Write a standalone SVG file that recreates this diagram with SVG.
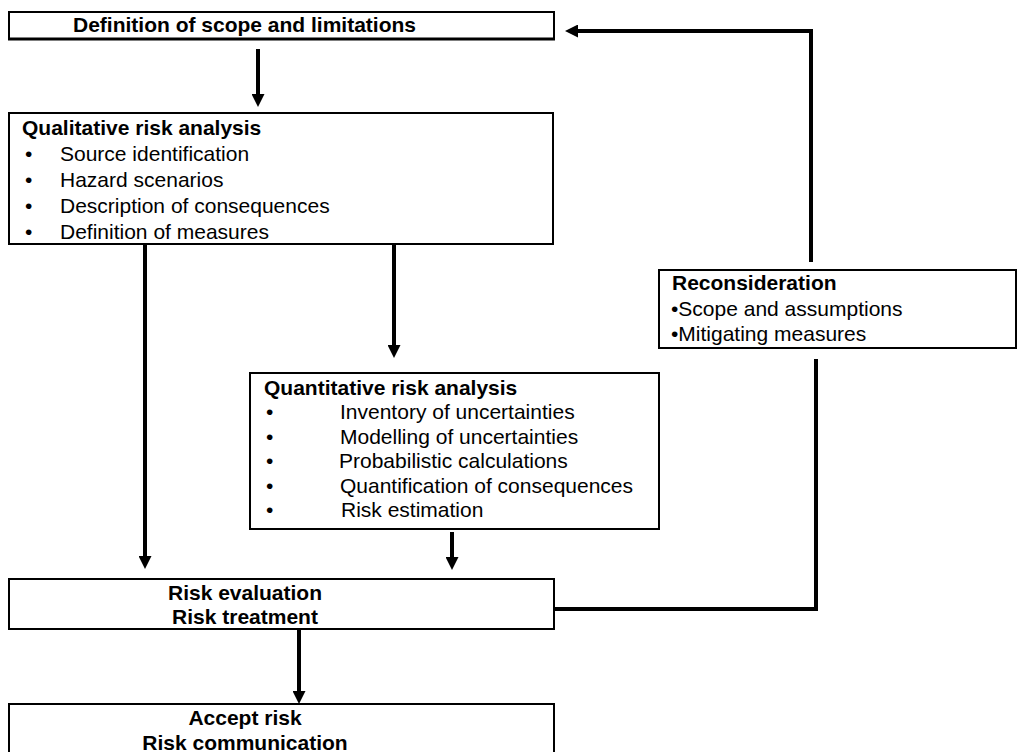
<svg xmlns="http://www.w3.org/2000/svg" width="1017" height="752" viewBox="0 0 1017 752">
<defs>
<style>
.box{fill:#fff;stroke:#000;stroke-width:2}
.t{font-family:"Liberation Sans",Arial,sans-serif;font-size:21px;fill:#000}
.b{font-weight:bold}
.c{text-anchor:middle}
.con{fill:none;stroke:#000;stroke-width:4}
</style>
<marker id="ah" viewBox="0 0 13 13" refX="0" refY="6.5" markerWidth="13" markerHeight="13" markerUnits="userSpaceOnUse" orient="auto"><path d="M0,0 L13,6.5 L0,13 z" fill="#000"/></marker>
</defs>
<rect width="1017" height="752" fill="#fff"/>
<g id="connectors">
<line class="con" x1="258" y1="49" x2="258" y2="94" marker-end="url(#ah)"/>
<line class="con" x1="394" y1="244" x2="394" y2="345" marker-end="url(#ah)"/>
<line class="con" x1="145" y1="244" x2="145" y2="556" marker-end="url(#ah)"/>
<line class="con" x1="452" y1="532" x2="452" y2="557" marker-end="url(#ah)"/>
<line class="con" x1="299" y1="629" x2="299" y2="691" marker-end="url(#ah)"/>
<polyline class="con" points="548,609 816,609 816,359"/>
<polyline class="con" points="811,262 811,31 578,31" marker-end="url(#ah)"/>
</g>
<g id="scope">
<rect class="box" x="9" y="12" width="545" height="27"/>
<line x1="8" y1="39" x2="555" y2="39" stroke="#000" stroke-width="3"/>
<text class="t b" x="73" y="32">Definition of scope and limitations</text>
</g>
<g id="qualitative">
<rect class="box" x="9" y="113" width="544" height="131"/>
<text class="t b" x="22" y="135">Qualitative risk analysis</text>
<text class="t" x="25" y="161">•</text><text class="t" x="60" y="161">Source identification</text>
<text class="t" x="25" y="187">•</text><text class="t" x="60" y="187">Hazard scenarios</text>
<text class="t" x="25" y="213">•</text><text class="t" x="60" y="213">Description of consequences</text>
<text class="t" x="25" y="239">•</text><text class="t" x="60" y="239">Definition of measures</text>
</g>
<g id="quantitative">
<rect class="box" x="250" y="373" width="409" height="156"/>
<text class="t b" x="264" y="395">Quantitative risk analysis</text>
<text class="t" x="266" y="419">•</text><text class="t" x="340" y="419">Inventory of uncertainties</text>
<text class="t" x="266" y="444">•</text><text class="t" x="340" y="444">Modelling of uncertainties</text>
<text class="t" x="266" y="468">•</text><text class="t" x="339" y="468">Probabilistic calculations</text>
<text class="t" x="266" y="493">•</text><text class="t" x="340" y="493">Quantification of consequences</text>
<text class="t" x="266" y="517">•</text><text class="t" x="341" y="517">Risk estimation</text>
</g>
<g id="reconsideration">
<rect class="box" x="659" y="270" width="357" height="78"/>
<text class="t b" x="672" y="290">Reconsideration</text>
<text class="t" x="671" y="316">•Scope and assumptions</text>
<text class="t" x="671" y="341">•Mitigating measures</text>
</g>
<g id="evaluation">
<rect class="box" x="9" y="579" width="545" height="50"/>
<text class="t b c" x="245" y="600">Risk evaluation</text>
<text class="t b c" x="245" y="624">Risk treatment</text>
</g>
<g id="accept">
<rect class="box" x="9" y="704" width="545" height="60"/>
<text class="t b c" x="245" y="725">Accept risk</text>
<text class="t b c" x="245" y="750">Risk communication</text>
</g>
</svg>
